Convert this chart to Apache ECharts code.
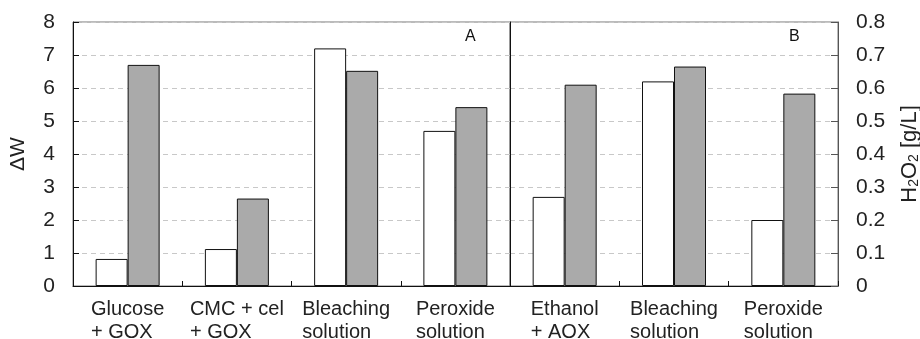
<!DOCTYPE html>
<html>
<head>
<meta charset="utf-8">
<script src="https://cdn.jsdelivr.net/npm/echarts@6/dist/echarts.min.js"></script>
<style>
html,body{margin:0;padding:0;background:#fff;}
#chart{width:920px;height:339px;}
</style>
</head>
<body>
<div id="chart"></div>
<script>
// Data
const categoriesA = ['Glucose\n+ GOX', 'CMC + cel\n+ GOX', 'Bleaching\nsolution', 'Peroxide\nsolution'];
const categoriesB = ['Ethanol\n+ AOX', 'Bleaching\nsolution', 'Peroxide\nsolution'];
const deltaW_white = [0.82, 1.12, 7.2, 4.7];
const deltaW_gray = [6.7, 2.65, 6.52, 5.42];
const h2o2_white = [0.27, 0.62, 0.2];
const h2o2_gray = [0.61, 0.665, 0.583];

const FONT = '"Liberation Sans", Arial, sans-serif';
const catLabel = {
  fontSize: 20, color: '#222', fontFamily: FONT, margin: 12, lineHeight: 23,
  interval: 0,
  formatter: v => v.split('\n').map(s => '{l|' + s + '}').join('\n'),
  rich: { l: { align: 'left', fontSize: 20, lineHeight: 23, color: '#222', fontFamily: FONT } }
};
const xBase = {
  type: 'category',
  boundaryGap: true,
  axisLine: { show: true, lineStyle: { color: '#111', width: 1 } },
  axisTick: { show: true, inside: true, length: 5, lineStyle: { color: '#111' } },
  axisLabel: catLabel,
  splitLine: { show: false }
};
const barStyle = (c) => ({ color: c, borderColor: '#111', borderWidth: 1 });

const chart = echarts.init(document.getElementById('chart'), null, { renderer: 'canvas' });
chart.setOption({
  animation: false,
  backgroundColor: '#fff',
  title: [
    { text: 'A', left: 465, top: 29, padding: 0, textStyle: { fontSize: 16, fontWeight: 'normal', color: '#111', fontFamily: FONT } },
    { text: 'B', left: 789, top: 29, padding: 0, textStyle: { fontSize: 16, fontWeight: 'normal', color: '#111', fontFamily: FONT } }
  ],
  grid: [
    { left: 73, right: 410, top: 22, bottom: 53, containLabel: false, outerBoundsMode: 'none', show: true, borderColor: '#777', borderWidth: 1, backgroundColor: 'transparent' },
    { left: 510, right: 82, top: 22, bottom: 53, containLabel: false, outerBoundsMode: 'none', show: true, borderColor: '#777', borderWidth: 1, backgroundColor: 'transparent' }
  ],
  xAxis: [
    Object.assign({ gridIndex: 0, data: categoriesA }, xBase),
    Object.assign({ gridIndex: 1, data: categoriesB }, xBase)
  ],
  yAxis: [
    {
      gridIndex: 0, type: 'value', position: 'left', min: 0, max: 8, interval: 1,
      name: 'ΔW', nameLocation: 'middle', nameGap: 44, nameRotate: 90,
      nameTextStyle: { fontSize: 21, color: '#222', fontFamily: FONT },
      axisLine: { show: true, lineStyle: { color: '#111' } },
      axisTick: { show: true, inside: true, length: 6, lineStyle: { color: '#111' } },
      axisLabel: { fontSize: 21, color: '#222', fontFamily: FONT, margin: 18 },
      splitLine: { show: true, lineStyle: { color: '#c8c8c8', type: [5, 4], width: 1 } }
    },
    {
      gridIndex: 1, type: 'value', position: 'right', min: 0, max: 0.8, interval: 0.1,
      name: 'H{sub|2}O{sub|2} [g/L]', nameLocation: 'middle', nameGap: 60, nameRotate: 90,
      nameTextStyle: {
        fontSize: 22, color: '#222', fontFamily: FONT,
        rich: { sub: { fontSize: 14, color: '#222', fontFamily: FONT, verticalAlign: 'bottom', padding: [9, 0, 0, 0] } }
      },
      axisLine: { show: true, lineStyle: { color: '#555' } },
      axisTick: { show: true, inside: true, length: 7, lineStyle: { color: '#555' } },
      axisLabel: { fontSize: 21, color: '#222', fontFamily: FONT, margin: 18 },
      splitLine: { show: true, lineStyle: { color: '#c8c8c8', type: [5, 4], width: 1 } }
    },
    {
      gridIndex: 1, type: 'value', position: 'left', min: 0, max: 0.8, interval: 0.1,
      axisLine: { show: true, lineStyle: { color: '#111' } },
      axisTick: { show: false }, axisLabel: { show: false }, splitLine: { show: false }
    }
  ],
  series: [
    { type: 'bar', name: 'A1', xAxisIndex: 0, yAxisIndex: 0, data: deltaW_white, barWidth: 32, barGap: '0%', itemStyle: barStyle('#ffffff') },
    { type: 'bar', name: 'A2', xAxisIndex: 0, yAxisIndex: 0, data: deltaW_gray, barWidth: 32, barGap: '0%', itemStyle: barStyle('#aaaaaa') },
    { type: 'bar', name: 'B1', xAxisIndex: 1, yAxisIndex: 1, data: h2o2_white, barWidth: 32, barGap: '0%', itemStyle: barStyle('#ffffff') },
    { type: 'bar', name: 'B2', xAxisIndex: 1, yAxisIndex: 1, data: h2o2_gray, barWidth: 32, barGap: '0%', itemStyle: barStyle('#aaaaaa') }
  ]
});
</script>
</body>
</html>
